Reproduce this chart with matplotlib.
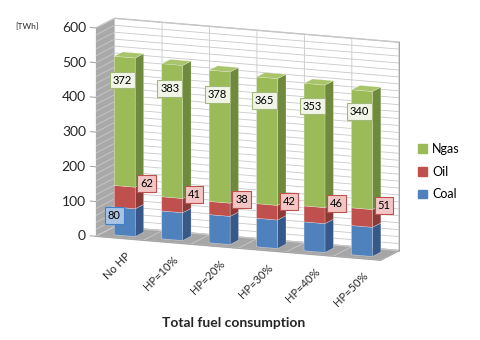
import matplotlib

matplotlib.use("Agg")
import matplotlib.pyplot as plt
from matplotlib.patches import Patch
from matplotlib.transforms import offset_copy
from mpl_toolkits.mplot3d import proj3d

categories = ["No HP", "HP=10%", "HP=20%", "HP=30%", "HP=40%", "HP=50%"]
coal = [80, 80, 81, 82, 83, 84]
oil = [62, 41, 38, 42, 46, 51]
ngas = [372, 383, 378, 365, 353, 340]
value_ticks = [0, 100, 200, 300, 400, 500, 600]

GREEN = ("#9bbb59", "#6f8a3d", "#a9c56c")
RED = ("#c0504d", "#8c3a38", "#cc6a67")
BLUE = ("#4f81bd", "#36598a", "#6a95c9")
NONE = (0, 0, 0, 0)

plt.rcParams["font.family"] = ["Lato", "DejaVu Sans"]
plt.rcParams["grid.color"] = "#c9c9c9"
plt.rcParams["grid.linewidth"] = 0.6

fig = plt.figure(figsize=(4.8, 3.4), dpi=100)
ax = fig.add_axes([0.117, 0.118, 0.78, 0.92], projection="3d", proj_type="ortho")
ax.view_init(elev=12, azim=-68)
ax.set_box_aspect((307, 50, 213), zoom=1.17)

n = len(categories)
ax.set_xlim(-0.5, n - 0.5)
ax.set_ylim(0, 1)
ax.set_zlim(0, 600)

width, depth = 0.44, 0.45
y0 = 0.5 - depth / 2


def segment(i, bottom, height, colors, top_visible):
    front, side, top = colors
    # face order: -z, +z, -y, +y, -x, +x
    faces = [NONE, top if top_visible else NONE, front, NONE, NONE, side]
    ax.bar3d(i - width / 2, y0, bottom, width, depth, height,
             color=faces, shade=False, edgecolor=(1, 1, 1, 0.35), linewidth=0.4)


for i in range(n):
    segment(i, 0, coal[i], BLUE, False)
    segment(i, coal[i], oil[i], RED, False)
    segment(i, coal[i] + oil[i], ngas[i], GREEN, True)

# small outward tick marks on the value axis
for v in value_ticks:
    ax.plot([-0.62, -0.5], [0, 0], [v, v], color="#a0a0a0", lw=0.7)
ax.set_xlim(-0.5, n - 0.5)

# walls
ax.xaxis.set_pane_color("#a9a9a9")
ax.yaxis.set_pane_color("#ffffff")
ax.zaxis.set_pane_color("#a6a6a6")
for axis in (ax.xaxis, ax.yaxis, ax.zaxis):
    axis.pane.set_edgecolor("#bdbdbd")
    axis.line.set_color("#a0a0a0")
    axis.line.set_linewidth(0.6)
    axis._axinfo["tick"]["inward_factor"] = 0
    axis._axinfo["tick"]["outward_factor"] = 0

ax.set_xticks([k - 0.5 for k in range(n + 1)])
ax.set_yticks([])
ax.set_zticks(range(0, 601, 20))
ax.set_xticklabels([])
ax.set_yticklabels([])
ax.set_zticklabels([])

# texts are placed in 2D at projected 3D points
fig.canvas.draw()
M = ax.get_proj()


def at(x, y, z, dx=0, dy=0):
    px, py, _ = proj3d.proj_transform(x, y, z, M)
    return px, py, offset_copy(ax.transData, fig=fig, x=dx, y=dy, units="dots")


for v in value_ticks:
    px, py, tr = at(-0.5, 0, v, dx=-10)
    ax.text2D(px, py, str(v), ha="right", va="center", fontsize=10,
              color="#262626", transform=tr, zorder=1000)

for i, name in enumerate(categories):
    px, py, tr = at(i, 0, 0, dx=5, dy=-12)
    ax.text2D(px, py, name, rotation=45, ha="right", va="top", fontsize=8,
              rotation_mode="anchor", transform=tr, zorder=1000, color="#262626")

for i in range(n):
    base = coal[i] + oil[i]
    px, py, tr = at(i - 0.05, y0, base + 0.82 * ngas[i])
    ax.text2D(px, py, str(ngas[i]), ha="center", va="center", fontsize=8,
              transform=tr, zorder=1000,
              bbox=dict(boxstyle="square,pad=0.25", fc="#f1f5e8", ec="#a3b97a", lw=0.8))
    px, py, tr = at(i + 0.46, y0, base + 14)
    ax.text2D(px, py, str(oil[i]), ha="center", va="center", fontsize=8,
              transform=tr, zorder=1000,
              bbox=dict(boxstyle="square,pad=0.25", fc="#f2c6c5", ec="#c0504d", lw=0.8))
px, py, tr = at(-0.22, y0, 0.7 * coal[0])
ax.text2D(px, py, str(coal[0]), ha="center", va="center", fontsize=8,
          transform=tr, zorder=1000,
          bbox=dict(boxstyle="square,pad=0.25", fc="#a9c3e3", ec="#3f7fcb", lw=0.8))

fig.text(15 / 480, 1 - 27 / 340, "[TWh]", fontsize=6, va="center", color="#262626")
fig.text(0.486, 0.05, "Total fuel consumption", ha="center", va="center",
         fontsize=10, fontweight="bold", color="#262626")

handles = [Patch(color=GREEN[0]), Patch(color=RED[0]), Patch(color=BLUE[0])]
fig.legend(handles, ["Ngas", "Oil", "Coal"], loc="upper left",
           bbox_to_anchor=(0.848, 0.612), frameon=False, fontsize=9,
           handlelength=0.7, handleheight=0.7, handletextpad=0.4, labelspacing=0.85)

fig.savefig("out.png", dpi=100)
